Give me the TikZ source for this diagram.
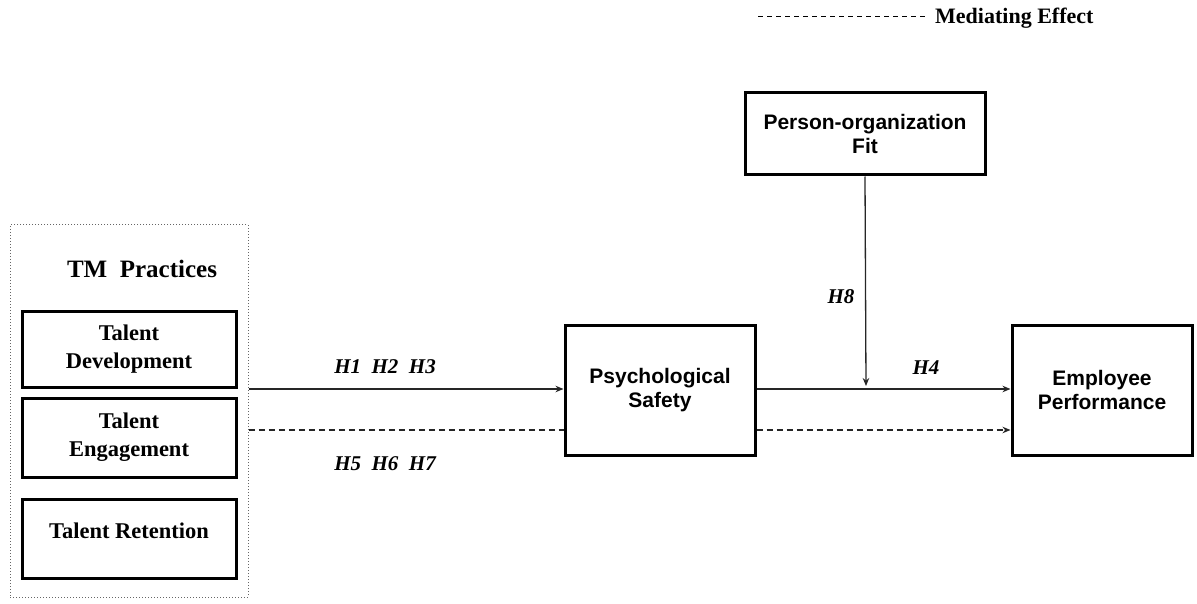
\documentclass[tikz,border=0pt]{standalone}
\usepackage{fontspec}
\setmainfont{Liberation Serif}
\newfontfamily\arialf{Liberation Sans}
\usetikzlibrary{arrows.meta}
\tikzset{
  box/.style={draw=black, line width=3pt, rectangle, inner sep=0pt, align=center},
  sansbox/.style={box, font=\arialf\bfseries\fontsize{21}{24}\selectfont},
  serifbox/.style={box, font=\bfseries\fontsize{22.5}{28}\selectfont},
  conn/.style={line width=1.3pt, draw=black!85},
  tip/.style={-{Stealth[length=8pt,width=6.5pt]}},
  mediate/.style={dash pattern=on 6pt off 4pt},
  hlabel/.style={font=\bfseries\itshape\fontsize{21}{24}\selectfont, inner sep=0pt}
}
\begin{document}
\begin{tikzpicture}[x=1pt,y=-1pt]
\useasboundingbox (0,0) rectangle (1197,604);
% legend
\coordinate (lega) at (758,17);
\coordinate (legb) at (928,17);
\draw[line width=1pt, dash pattern=on 5pt off 4pt] (lega) -- (legb);
\node[anchor=west, inner sep=0pt, font=\bfseries\fontsize{22}{24}\selectfont] (legtxt) at (935,18) {Mediating Effect};
% TM practices group
\node[draw=black!60, dotted, line width=1pt, minimum width=238pt, minimum height=372pt, inner sep=0pt] (tm) at (129,411) {};
\node[font=\bfseries\fontsize{25}{28}\selectfont, inner sep=0pt] (tmtitle) at (142,269) {TM\ \ Practices};
\node[serifbox, minimum width=214pt, minimum height=76pt] (td) at (129,349) {Talent\\Development};
\node[serifbox, minimum width=214pt, minimum height=79pt] (te) at (129,437.5) {Talent\\Engagement};
\node[box, minimum width=214pt, minimum height=79pt] (tr) at (129,538.5) {};
\node[font=\bfseries\fontsize{22.5}{28}\selectfont, inner sep=0pt] (trtxt) at (129,531) {Talent Retention};
% main boxes
\node[sansbox, minimum width=190pt, minimum height=130pt] (ps) at (660,390) {Psychological\\Safety};
\node[sansbox, minimum width=180pt, minimum height=130pt] (ep) at (1102,390) {Employee\\Performance};
\node[sansbox, minimum width=240pt, minimum height=82pt] (po) at (865,134) {Person-organization\\Fit};
% connectors
\coordinate (sy) at (0,389);
\coordinate (dy) at (0,430);
\coordinate (h8tip) at (866,386);
\draw[conn, tip] (tm.east |- sy) -- (ps.west |- sy);
\draw[conn, mediate] (tm.east |- dy) -- (ps.west |- dy);
\draw[conn, tip] (ps.east |- sy) -- (ep.west |- sy);
\draw[conn, mediate, tip] (ps.east |- dy) -- (ep.west |- dy);
\draw[conn, tip] (po.south) -- (h8tip);
% labels
\node[hlabel] (l1) at (385,367) {H1\ \ H2\ \ H3};
\node[hlabel] (l2) at (385,464) {H5\ \ H6\ \ H7};
\node[hlabel] (l3) at (841,297) {H8};
\node[hlabel] (l4) at (926,368) {H4};
\end{tikzpicture}
\end{document}
